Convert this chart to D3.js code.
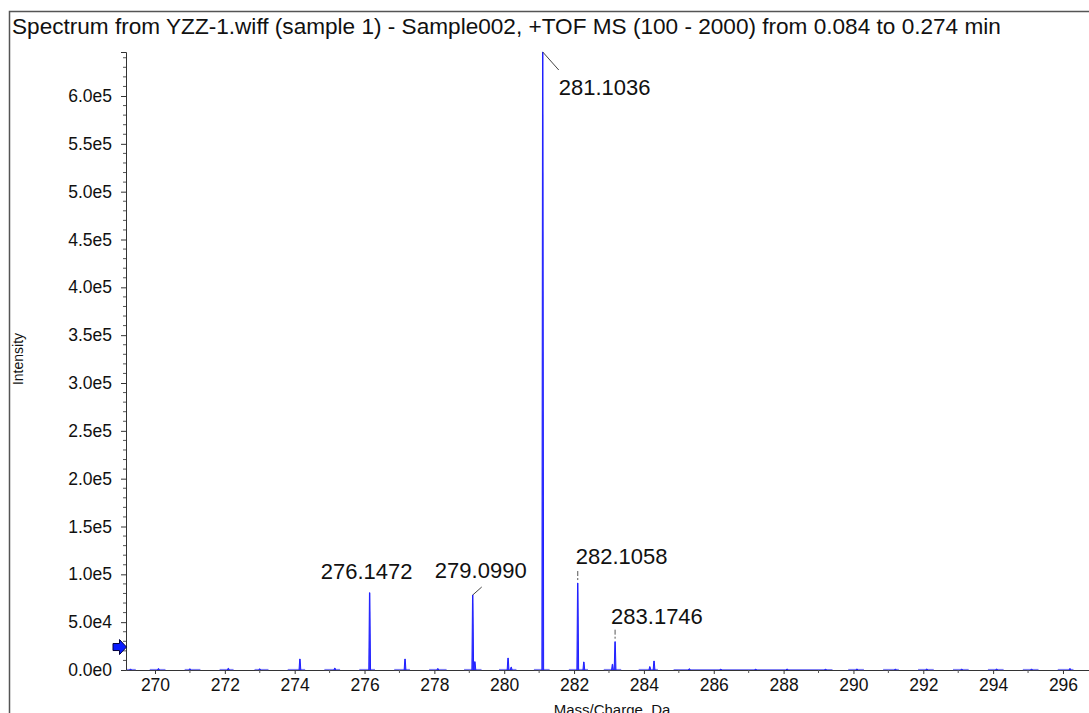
<!DOCTYPE html>
<html>
<head>
<meta charset="utf-8">
<script src="https://cdn.jsdelivr.net/npm/d3@7"></script>
<style>
  body { margin: 0; background: #fff; }
  text { font-family: "Liberation Sans", Arial, sans-serif; }
</style>
</head>
<body>
<div id="vis"></div>
<script>
// spectrum data
const titleText = "Spectrum from YZZ-1.wiff (sample 1) - Sample002, +TOF MS (100 - 2000) from 0.084 to 0.274 min"
const peakMz = [274.15, 275.15, 277.16, 278.1, 279.16, 280.11, 280.2, 282.28, 283.10, 284.17, 284.29, 276.1472, 279.0990, 281.1036, 282.1058, 283.1746,
  269.3, 270.1, 271.0, 272.1, 273.0, 285.3, 286.2, 287.2, 288.1, 289.2, 290.1, 291.2, 292.1, 293.1, 294.1, 295.1, 296.2]
const peakInt = [11500, 2000, 11500, 1500, 8700, 12500, 3000, 8400, 6000, 3500, 9400, 80800, 78400, 646000, 90900, 29600,
  1000, 1500, 1200, 1800, 1200, 1300, 1000, 1000, 1100, 1000, 1100, 1000, 1100, 1000, 1100, 1000, 1500]
const baseSegs = [[269.2, 269.45], [269.85, 270.3], [270.85, 271.3], [271.85, 272.25], [272.85, 273.25], [273.8, 274.3],
  [274.85, 275.3], [275.85, 276.3], [276.85, 277.3], [277.85, 278.35], [278.85, 279.35], [279.85, 280.35], [280.85, 281.3],
  [281.85, 282.4], [282.85, 283.35], [283.85, 284.4], [284.85, 289.4], [289.85, 290.3], [290.85, 291.3], [291.85, 292.3],
  [292.85, 293.3], [293.85, 294.3], [294.85, 295.3], [295.85, 296.3]]
const labelMz = [276.1472, 279.0990, 281.1036, 282.1058, 283.1746]
const labelInt = [80800, 78400, 646000, 90900, 29600]
const yTicks = [0, 50000, 100000, 150000, 200000, 250000, 300000, 350000, 400000, 450000, 500000, 550000, 600000]
const xTicks = [270, 272, 274, 276, 278, 280, 282, 284, 286, 288, 290, 292, 294, 296]
const thresholdInt = 24000

const W = 1089, H = 713
const svg = d3.select("#vis").append("svg").attr("width", W).attr("height", H)

const x = d3.scaleLinear().domain([269.17, 296.745]).range([126, 1089])
const y = d3.scaleLinear().domain([0, 646000]).range([670, 52])

// frame
svg.append("path").attr("d", `M9.5,${H}V11.5H${W}`).attr("fill", "none").attr("stroke", "#555").attr("stroke-width", 1.5)

svg.append("text").attr("x", 12).attr("y", 34).attr("font-size", 22.6).attr("fill", "#111").text(titleText)

// y axis
const fmt = v => v === 0 ? "0.0e0" : d3.format(".1e")(v).replace("+", "")
const yAxis = d3.axisLeft(y).tickValues(yTicks).tickFormat(fmt).tickSize(5).tickPadding(9)
const gy = svg.append("g").attr("transform", "translate(126,0)").call(yAxis)
gy.select(".domain").attr("stroke", "#333")
gy.selectAll("text").attr("font-size", 17.5).attr("fill", "#111").style("font-family", "Liberation Sans, Arial")
gy.selectAll(".tick line").attr("stroke", "#333")
const yMinor = d3.range(0, 646000, 10000).filter(v => v % 50000 !== 0)
gy.selectAll(".minor").data(yMinor).enter().append("line")
  .attr("x1", -3).attr("x2", 0).attr("y1", d => y(d)).attr("y2", d => y(d)).attr("stroke", "#555")

// x axis
const xAxis = d3.axisBottom(x).tickValues(xTicks).tickFormat(d3.format("d")).tickSize(4).tickPadding(5).tickSizeOuter(0)
const gx = svg.append("g").attr("transform", "translate(0,670)").call(xAxis)
gx.select(".domain").attr("stroke", "#333")
gx.selectAll("text").attr("font-size", 17.5).attr("fill", "#111").style("font-family", "Liberation Sans, Arial")
gx.selectAll(".tick line").attr("stroke", "#333")
const xMinor = d3.range(269, 297, 2).filter(v => x(v) > 126)
gx.selectAll(".minor").data(xMinor).enter().append("line")
  .attr("x1", d => x(d)).attr("x2", d => x(d)).attr("y1", 0).attr("y2", 3).attr("stroke", "#555")

svg.append("text").attr("transform", "translate(23,359) rotate(-90)").attr("text-anchor", "middle")
  .attr("font-size", 14).attr("fill", "#111").text("Intensity")
svg.append("text").attr("x", 612).attr("y", 715).attr("text-anchor", "middle")
  .attr("font-size", 15).attr("fill", "#111").text("Mass/Charge, Da")

// baseline trace segments
svg.append("g").selectAll("line").data(baseSegs).enter().append("line")
  .attr("x1", d => x(d[0])).attr("x2", d => x(d[1])).attr("y1", y(0) - 0.5).attr("y2", y(0) - 0.5)
  .attr("stroke", "#8080f2").attr("stroke-width", 1.2)

// peaks
const line = d3.line().x(d => x(d[0])).y(d => y(d[1]))
const peaks = peakMz.map((m, i) => ({ mz: m, int: peakInt[i] }))
svg.append("g").selectAll("path").data(peaks).enter().append("path")
  .attr("d", d => line([[d.mz - 0.025, 0], [d.mz - 0.006, d.int], [d.mz + 0.006, d.int], [d.mz + 0.025, 0]]))
  .attr("fill", "#3a3aff").attr("stroke", "#2020ff").attr("stroke-width", 1)

// threshold arrow
const ay = y(thresholdInt)
svg.append("path")
  .attr("d", `M113,${ay - 3.5}H119.5V${ay - 7.5}L126.5,${ay}L119.5,${ay + 7.5}V${ay + 3.5}H113Z`)
  .attr("fill", "#0a1cff").attr("stroke", "#000040").attr("stroke-width", 1)

// peak labels
const lab = [
  { dx: -3, dy: -14, anchor: "middle", lead: null },
  { dx: 8, dy: -17, anchor: "middle", lead: [[0, 0], [9, -8]] },
  { dx: 16, dy: 43, anchor: "start", lead: [[0, 0], [16, 18]] },
  { dx: -2, dy: -19, anchor: "start", lead: "dash" },
  { dx: -4, dy: -18, anchor: "start", lead: "dash" }
]
labelMz.forEach((m, i) => {
  const px = x(m), py = y(labelInt[i]), L = lab[i]
  if (L.lead === "dash") {
    svg.append("line").attr("x1", px).attr("x2", px).attr("y1", py - 12).attr("y2", py - 3)
      .attr("stroke", "#555").attr("stroke-dasharray", "5,2").attr("stroke-width", 1)
  } else if (L.lead) {
    svg.append("line").attr("x1", px + L.lead[0][0]).attr("y1", py + L.lead[0][1])
      .attr("x2", px + L.lead[1][0]).attr("y2", py + L.lead[1][1]).attr("stroke", "#444").attr("stroke-width", 1)
  }
  svg.append("text").attr("x", px + L.dx).attr("y", py + L.dy).attr("text-anchor", L.anchor)
    .attr("font-size", 22).attr("fill", "#111").text(m.toFixed(4))
})
</script>
</body>
</html>
